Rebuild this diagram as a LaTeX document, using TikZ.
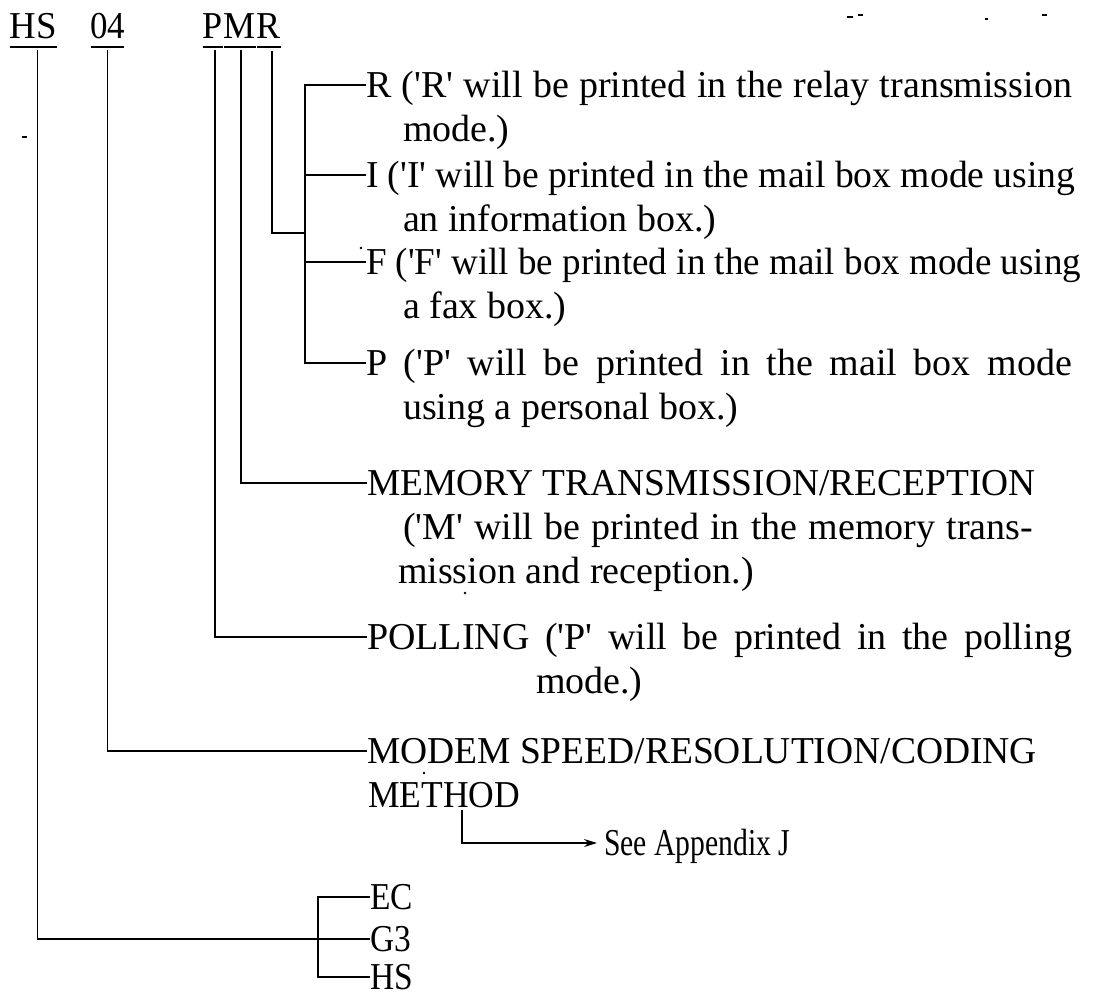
\documentclass[tikz,border=0pt]{standalone}
\usepackage{fontspec}
\setmainfont{Liberation Serif}
\usepackage{graphicx}
\usetikzlibrary{arrows.meta}
\newcommand\qt{\textquotesingle}
\newcommand\cnd[2]{\scalebox{#1}[1]{#2}}
\begin{document}
\begin{tikzpicture}[x=1pt,y=-1pt,
  every node/.style={inner sep=0pt,outer sep=0pt},
  txt/.style={anchor=west,text height=27pt,text depth=3pt,font=\fontsize{38}{44}\selectfont},
  hdr/.style={anchor=base,text height=27pt,text depth=8pt,font=\fontsize{38}{44}\selectfont},
  ln/.style={line width=1.3pt},
  noise/.style={line width=1.6pt}]
\useasboundingbox (0,0) rectangle (1100,998);
% header
\node[hdr] (hHS) at (33.5,39) {\cnd{0.97}{HS}};
\node[hdr] (h04) at (107.5,39) {\cnd{0.92}{04}};
\node[hdr] (p) at (213,39) {\cnd{0.95}{P}};
\node[hdr] (m) at (240,39) {\cnd{0.95}{M}};
\node[hdr] (r) at (269,39) {\cnd{0.95}{R}};
\foreach \n in {hHS,h04,p,m,r}
  \draw[ln] ([xshift=0.5pt]\n.south west) -- ([xshift=-0.5pt]\n.south east);
% texts
\node[txt] (tR) at (366,85) {\makebox[706pt][s]{R (\qt{}R\qt{} will be printed in the relay transmission}};
\node[txt] (tR2) at (403,129) {mode.)};
\node[txt] (tI) at (366,175) {\cnd{0.99}{I (\qt{}I\qt{} will be printed in the mail box mode using}};
\node[txt] (tI2) at (403,219) {an information box.)};
\node[txt] (tF) at (366,262) {\cnd{0.975}{F (\qt{}F\qt{} will be printed in the mail box mode using}};
\node[txt] (tF2) at (403,306) {a fax box.)};
\node[txt] (tP) at (366,363) {\makebox[706pt][s]{P (\qt{}P\qt{} will be printed in the mail box mode}};
\node[txt] (tP2) at (403,407) {using a personal box.)};
\node[txt] (tM) at (367,483) {\cnd{0.985}{MEMORY TRANSMISSION/RECEPTION}};
\node[txt] (tM2) at (403,527) {\makebox[630pt][s]{(\qt{}M\qt{} will be printed in the memory trans-}};
\node[txt] (tM3) at (398,571) {mission and reception.)};
\node[txt] (tPo) at (367,637) {\makebox[705pt][s]{POLLING (\qt{}P\qt{} will be printed in the polling}};
\node[txt] (tPo2) at (536,681) {mode.)};
\node[txt] (tMo) at (367,751) {\cnd{0.987}{MODEM SPEED/RESOLUTION/CODING}};
\node[txt] (tMo2) at (368,795) {\cnd{0.935}{METHOD}};
\node[txt] (tSee) at (604,843) {\cnd{0.78}{See Appendix J}};
\node[txt] (tEC) at (370,897) {\cnd{0.88}{EC}};
\node[txt] (tG3) at (370,939) {\cnd{0.88}{G3}};
\node[txt] (tHS) at (370,977) {\cnd{0.88}{HS}};
% connectors
\coordinate (jR) at (305,233);
\draw[ln] ([xshift=3pt,yshift=-4pt]r.south) |- (jR);
\draw[ln] (tR.west) -| (jR) |- (tP.west);
\draw[ln] (tI.west) -- (tI.west -| jR);
\draw[ln] (tF.west) -- (tF.west -| jR);
\draw[ln] ([xshift=1pt,yshift=-3pt]m.south) |- (tM.west);
\draw[ln] ([xshift=2pt,yshift=-3pt]p.south) |- (tPo.west);
\draw[ln] ([yshift=-3pt]h04.south) |- (tMo.west);
\draw[ln] ([xshift=4pt,yshift=-3pt]hHS.south) |- (tG3.west);
\coordinate (jE) at (318,939);
\draw[ln] (tEC.west) -| (jE) |- (tHS.west);
\coordinate (mA) at ([xshift=94pt]tMo2.south west);
\draw[ln,-{Stealth[length=13pt,width=8pt]}] (mA) |- ([xshift=-7pt]tSee.west);
% scan specks
\draw[noise] (22,137) -- (27,137);
\draw[noise] (847,17) -- (853,17);
\draw[noise] (858,15) -- (863,15);
\draw[noise] (985,19) -- (988,19);
\draw[noise] (1042,15) -- (1047,15);
\fill (361,248) circle (1.3);
\fill (465,593) circle (1.3);
\fill (424,773) circle (1.3);
\end{tikzpicture}
\end{document}
